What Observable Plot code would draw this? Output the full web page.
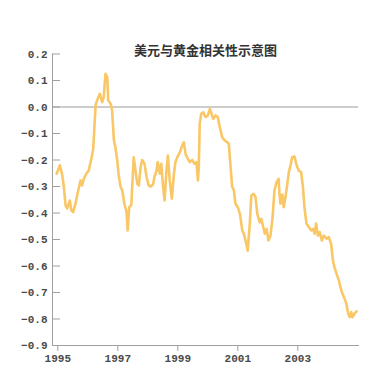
<!DOCTYPE html>
<html>
<head>
<meta charset="utf-8">
<script src="https://cdn.jsdelivr.net/npm/d3@7"></script>
<script src="https://cdn.jsdelivr.net/npm/@observablehq/plot@0.6"></script>
<style>
  html, body { margin: 0; padding: 0; background: #ffffff; }
  #chart { position: relative; width: 387px; height: 375px; }
</style>
</head>
<body>
<div id="chart"></div>
<script>
const title = "美元与黄金相关性示意图";
const xTicks = [1995, 1997, 1999, 2001, 2003];
const yTicks = [0.2, 0.1, 0.0, -0.1, -0.2, -0.3, -0.4, -0.5, -0.6, -0.7, -0.8, -0.9];
const xDomain = [1994.823, 2005.023];
const yDomain = [-0.9, 0.2];

// decimal year
const years = [
  1994.96, 1995.07, 1995.15, 1995.20, 1995.26, 1995.31, 1995.40, 1995.45, 1995.51, 1995.59,
  1995.67, 1995.76, 1995.81, 1995.87, 1995.96, 1996.03, 1996.11, 1996.18, 1996.22, 1996.26,
  1996.31, 1996.40, 1996.48, 1996.53, 1996.59, 1996.65, 1996.68, 1996.76, 1996.81, 1996.87,
  1996.92, 1996.98, 1997.03, 1997.09, 1997.15, 1997.22, 1997.29, 1997.33, 1997.38, 1997.45,
  1997.48, 1997.53, 1997.59, 1997.65, 1997.70, 1997.76, 1997.81, 1997.89, 1997.96, 1998.03,
  1998.11, 1998.18, 1998.22, 1998.29, 1998.33, 1998.40, 1998.45, 1998.50, 1998.56, 1998.62,
  1998.67, 1998.73, 1998.80, 1998.87, 1998.92, 1998.98, 1999.07, 1999.15, 1999.20, 1999.26,
  1999.31, 1999.40, 1999.48, 1999.56, 1999.62, 1999.67, 1999.70, 1999.73, 1999.78, 1999.85,
  1999.92, 2000.00, 2000.07, 2000.18, 2000.26, 2000.33, 2000.40, 2000.48, 2000.56, 2000.65,
  2000.70, 2000.76, 2000.81, 2000.87, 2000.92, 2001.00, 2001.07, 2001.15, 2001.20, 2001.26,
  2001.33, 2001.40, 2001.45, 2001.53, 2001.59, 2001.65, 2001.73, 2001.78, 2001.85, 2001.90,
  2001.96, 2002.02, 2002.09, 2002.16, 2002.22, 2002.29, 2002.36, 2002.39, 2002.42, 2002.48,
  2002.53, 2002.59, 2002.65, 2002.70, 2002.76, 2002.81, 2002.89, 2002.96, 2003.03, 2003.11,
  2003.17, 2003.22, 2003.29, 2003.37, 2003.45, 2003.51, 2003.56, 2003.61, 2003.67, 2003.73,
  2003.80, 2003.87, 2003.96, 2004.03, 2004.11, 2004.17, 2004.22, 2004.29, 2004.37, 2004.42,
  2004.49, 2004.56, 2004.62, 2004.68, 2004.73, 2004.78, 2004.82, 2004.89, 2004.96
];
// correlation
const corr = [
  -0.252, -0.220, -0.258, -0.300, -0.372, -0.383, -0.353, -0.390, -0.397, -0.365,
  -0.320, -0.277, -0.296, -0.270, -0.250, -0.240, -0.200, -0.158, -0.076, 0.006,
  0.025, 0.050, 0.018, 0.037, 0.125, 0.112, 0.025, 0.012, -0.013, -0.126,
  -0.152, -0.200, -0.258, -0.300, -0.315, -0.365, -0.397, -0.466, -0.378, -0.370,
  -0.300, -0.190, -0.240, -0.290, -0.296, -0.227, -0.200, -0.214, -0.265, -0.296,
  -0.300, -0.290, -0.265, -0.240, -0.208, -0.252, -0.214, -0.290, -0.353, -0.240,
  -0.183, -0.277, -0.346, -0.252, -0.208, -0.190, -0.170, -0.145, -0.133, -0.177,
  -0.190, -0.208, -0.200, -0.214, -0.208, -0.277, -0.227, -0.063, -0.026, -0.020,
  -0.038, -0.032, -0.007, -0.045, -0.032, -0.038, -0.076, -0.114, -0.126, -0.133,
  -0.139, -0.227, -0.300, -0.315, -0.365, -0.378, -0.403, -0.466, -0.478, -0.504,
  -0.542, -0.440, -0.334, -0.328, -0.340, -0.403, -0.435, -0.422, -0.454, -0.478,
  -0.460, -0.504, -0.485, -0.416, -0.315, -0.284, -0.271, -0.330, -0.365, -0.330,
  -0.378, -0.340, -0.290, -0.246, -0.220, -0.190, -0.187, -0.220, -0.240, -0.246,
  -0.300, -0.378, -0.440, -0.454, -0.466, -0.460, -0.478, -0.440, -0.485, -0.472,
  -0.504, -0.485, -0.497, -0.491, -0.516, -0.579, -0.604, -0.629, -0.655, -0.680,
  -0.705, -0.724, -0.743, -0.780, -0.793, -0.774, -0.793, -0.780, -0.771
];

const data = years.map((t, i) => ({t, v: corr[i]}));
const axisColor = "#a0a0a0";
const textColor = "#4a4a4a";

const chart = Plot.plot({
  width: 387,
  height: 375,
  marginLeft: 52,
  marginRight: 29,
  marginTop: 53.5,
  marginBottom: 30,
  style: {fontFamily: "'Liberation Mono', monospace", fontSize: "11px", fontWeight: "bold", color: textColor, background: "transparent"},
  x: {domain: xDomain},
  y: {domain: yDomain},
  marks: [
    Plot.ruleY([0], {stroke: "#9a9a9a", strokeWidth: 1}),
    Plot.line(data, {x: "t", y: "v", stroke: "#f9c766", strokeWidth: 2.6, strokeLinejoin: "round", curve: "linear"}),
    Plot.frame({anchor: "left", stroke: axisColor}),
    Plot.frame({anchor: "bottom", stroke: axisColor}),
    Plot.axisY(yTicks, {tickSize: 0, tickPadding: 5, tickFormat: d3.format(".1f"), label: null, fill: textColor}),
    Plot.axisY(yTicks, {tickSize: 8, dx: 8, fill: "none", stroke: axisColor, label: null}),
    Plot.axisX(xTicks, {tickSize: 6, tickPadding: 3, tickFormat: d => String(d), label: null, stroke: axisColor, fill: textColor}),
    Plot.text([title], {frameAnchor: "top", dy: -3, lineAnchor: "middle", fontSize: 13, fontWeight: "bold", fontFamily: "'Noto Sans CJK SC', sans-serif", fill: "#333"})
  ]
});
document.getElementById("chart").appendChild(chart);
</script>
</body>
</html>
